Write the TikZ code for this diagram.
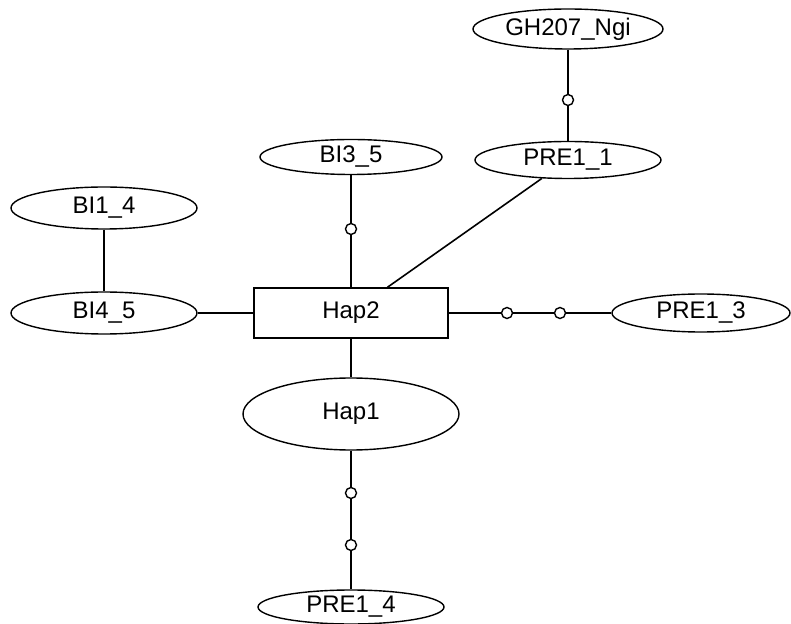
\documentclass[tikz,border=0pt]{standalone}
\usepackage{fontspec}
\setmainfont{Liberation Sans}
\usetikzlibrary{shapes.geometric}

\tikzset{
  hap/.style={draw, ellipse, line width=0.7pt, inner sep=0pt, minimum width=93pt, minimum height=20pt},
  hapbox/.style={draw, rectangle, line width=0.7pt, minimum width=97pt, minimum height=25pt},
  med/.style={draw, circle, fill=white, line width=0.7pt, inner sep=0pt, minimum size=5.5pt},
  lnk/.style={line width=0.8pt}
}

\begin{document}
\begin{tikzpicture}[x=0.5pt, y=-0.5pt, font=\fontsize{12}{14}\selectfont]
\useasboundingbox (0,0) rectangle (791,624);

\node[hapbox] (Hap2) at (351,313) {Hap2};
\node[hap, minimum width=108pt, minimum height=36pt] (Hap1) at (351,414) {Hap1};
\node[hap, minimum width=95pt] (GH207) at (568,29) {GH207\_Ngi};
\node[hap, minimum height=18.5pt] (PRE11) at (568,160) {PRE1\_1};
\node[hap, minimum width=91pt, minimum height=17.5pt] (BI35) at (351,157) {BI3\_5};
\node[hap, minimum height=21pt] (BI14) at (104,208) {BI1\_4};
\node[hap, minimum height=21pt] (BI45) at (104,313) {BI4\_5};
\node[hap, minimum width=89pt, minimum height=19pt] (PRE13) at (701,313) {PRE1\_3};
\node[hap, minimum height=17pt] (PRE14) at (351,607) {PRE1\_4};

\node[med] (m1) at (568,100) {};
\node[med] (m2) at (351,229) {};
\node[med] (m3) at (507,313) {};
\node[med] (m4) at (560,313) {};
\node[med] (m5) at (351,493) {};
\node[med] (m6) at (351,545) {};

\draw[lnk] (GH207) -- (m1) -- (PRE11);
\draw[lnk] (PRE11) -- (Hap2);
\draw[lnk] (BI35) -- (m2) -- (Hap2);
\draw[lnk] (BI14) -- (BI45);
\draw[lnk] (BI45) -- (Hap2);
\draw[lnk] (Hap2) -- (m3) -- (m4) -- (PRE13);
\draw[lnk] (Hap2) -- (Hap1);
\draw[lnk] (Hap1) -- (m5) -- (m6) -- (PRE14);
\end{tikzpicture}
\end{document}
